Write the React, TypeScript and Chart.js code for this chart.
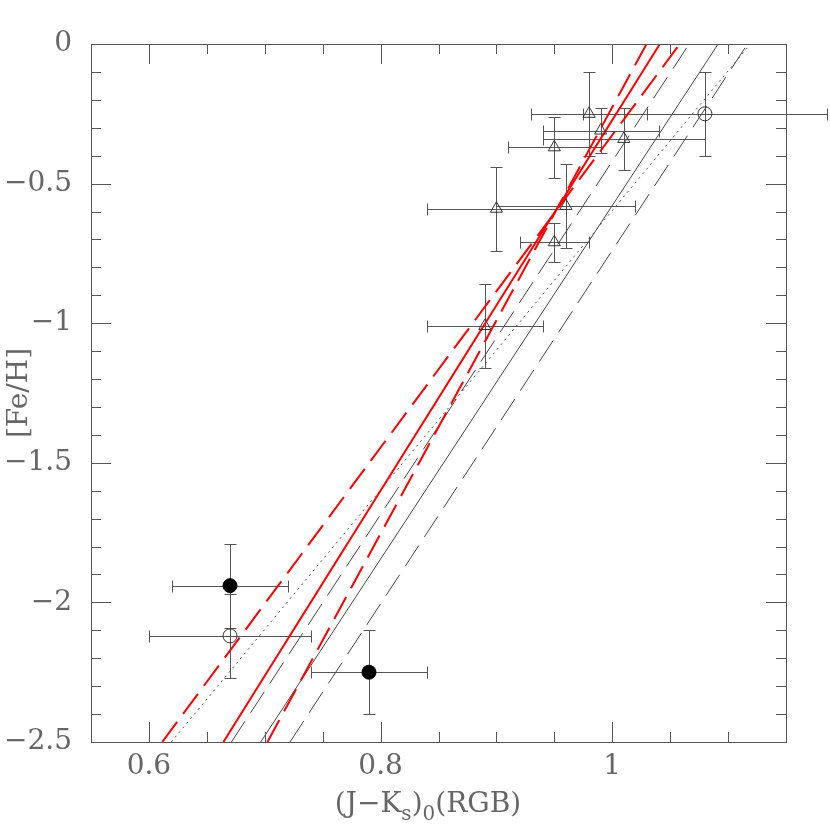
import React, { useEffect, useRef } from 'react';
import { Chart, registerables } from 'chart.js';

Chart.register(...registerables);

// ---- axis ranges & tick labels ----
const xRange = [0.55, 1.15];
const yRange = [-2.5, 0];
const xMajorTicks = [0.6, 0.8, 1.0];
const xMajorLabels = ['0.6', '0.8', '1'];
const yMajorTicks = [0, -0.5, -1, -1.5, -2, -2.5];
const yMajorLabels = ['0', '\u22120.5', '\u22121', '\u22121.5', '\u22122', '\u22122.5'];

// ---- open triangles ----
const triX = [0.89, 0.9, 0.96, 0.95, 0.95, 0.98, 0.99, 1.01];
const triY = [-1.01, -0.59, -0.58, -0.71, -0.37, -0.25, -0.31, -0.34];
const triXErr = [0.05, 0.06, 0.06, 0.03, 0.04, 0.05, 0.05, 0.07];
const triYErr = [0.15, 0.15, 0.15, 0.07, 0.11, 0.15, 0.08, 0.11];

// ---- open circles ----
const openX = [0.67, 1.08];
const openY = [-2.12, -0.25];
const openXErr = [0.07, 0.105];
const openYErr = [0.15, 0.15];

// ---- filled circles ----
const fillX = [0.67, 0.79];
const fillY = [-1.94, -2.25];
const fillXErr = [0.05, 0.05];
const fillYErr = [0.15, 0.15];

// ---- relations: x at [Fe/H] = -2.5 and at [Fe/H] = 0 ----
const lineY = [-2.5, 0];
const redFitX = [0.6643, 1.0411];
const redUpperX = [0.6115, 1.0583];
const redLowerX = [0.7023, 1.0296];
const blackFitX = [0.6965, 1.0914];
const blackLowX = [0.6712, 1.0664];
const blackHighX = [0.7218, 1.1168];
const dottedX = [0.6193, 1.1193];

const FONT = '"DejaVu Serif", "Liberation Serif", serif';
const TEXT_COLOR = '#666';

const pts = (xs: number[], ys: number[]) => xs.map((x, i) => ({ x, y: ys[i] }));

const errorBarPlugin = {
  id: 'errorBars',
  beforeDatasetsDraw(chart: any) {
    const { ctx } = chart;
    const xs = chart.scales.x;
    const ys = chart.scales.y;
    const cap = 6;
    const r = (v: number) => Math.round(v) + 0.5;
    ctx.save();
    ctx.strokeStyle = '#555';
    ctx.lineWidth = 1;
    chart.data.datasets.forEach((ds: any) => {
      if (!ds.errX) return;
      ds.data.forEach((p: any, i: number) => {
        const px = r(xs.getPixelForValue(p.x));
        const py = r(ys.getPixelForValue(p.y));
        const x0 = r(xs.getPixelForValue(p.x - ds.errX[i]));
        const x1 = r(xs.getPixelForValue(p.x + ds.errX[i]));
        const y0 = r(ys.getPixelForValue(p.y + ds.errY[i]));
        const y1 = r(ys.getPixelForValue(p.y - ds.errY[i]));
        ctx.beginPath();
        ctx.moveTo(x0, py); ctx.lineTo(x1, py);
        ctx.moveTo(x0, py - cap); ctx.lineTo(x0, py + cap);
        ctx.moveTo(x1, py - cap); ctx.lineTo(x1, py + cap);
        ctx.moveTo(px, y0); ctx.lineTo(px, y1);
        ctx.moveTo(px - cap, y0); ctx.lineTo(px + cap, y0);
        ctx.moveTo(px - cap, y1); ctx.lineTo(px + cap, y1);
        ctx.stroke();
      });
    });
    ctx.restore();
  },
};

const framePlugin = {
  id: 'frameTicks',
  afterDraw(chart: any) {
    const { ctx, chartArea } = chart;
    const { left, right, top, bottom } = chartArea;
    const xs = chart.scales.x;
    const ys = chart.scales.y;
    const r = (v: number) => Math.round(v) + 0.5;
    ctx.save();
    ctx.strokeStyle = '#555';
    ctx.lineWidth = 1;
    ctx.strokeRect(r(left), r(top), Math.round(right - left), Math.round(bottom - top));
    ctx.beginPath();
    xs.ticks.forEach((t: any) => {
      const v = t.value;
      const major = xMajorTicks.some((m) => Math.abs(m - v) < 1e-6);
      const len = major ? 20 : 10;
      const px = r(xs.getPixelForValue(v));
      ctx.moveTo(px, bottom); ctx.lineTo(px, bottom - len);
      ctx.moveTo(px, top); ctx.lineTo(px, top + len);
    });
    ys.ticks.forEach((t: any) => {
      const v = t.value;
      const major = yMajorTicks.some((m) => Math.abs(m - v) < 1e-6);
      const len = major ? 20 : 10;
      const py = r(ys.getPixelForValue(v));
      ctx.moveTo(left, py); ctx.lineTo(left + len, py);
      ctx.moveTo(right, py); ctx.lineTo(right - len, py);
    });
    ctx.stroke();

    // axis titles
    ctx.fillStyle = TEXT_COLOR;
    const big = `28px ${FONT}`;
    const small = `20px ${FONT}`;
    const parts = [
      { t: '(J\u2212K', sub: false },
      { t: 's', sub: true },
      { t: ')', sub: false },
      { t: '0', sub: true },
      { t: '(RGB)', sub: false },
    ];
    let total = 0;
    parts.forEach((p) => {
      ctx.font = p.sub ? small : big;
      total += ctx.measureText(p.t).width;
    });
    let cx = 428 - total / 2;
    const base = 812;
    ctx.textAlign = 'left';
    ctx.textBaseline = 'alphabetic';
    parts.forEach((p) => {
      ctx.font = p.sub ? small : big;
      ctx.fillText(p.t, cx, p.sub ? base + 8 : base);
      cx += ctx.measureText(p.t).width;
    });

    ctx.translate(20, 393);
    ctx.rotate(-Math.PI / 2);
    ctx.font = big;
    ctx.textAlign = 'center';
    ctx.textBaseline = 'middle';
    ctx.fillText('[Fe/H]', 0, 0);
    ctx.restore();
  },
};

export default function App() {
  const ref = useRef<HTMLCanvasElement | null>(null);

  useEffect(() => {
    if (!ref.current) return;
    const lineDs = (xs: number[], color: string, width: number, dash: number[]) => ({
      data: pts(xs, lineY),
      showLine: true,
      pointRadius: 0,
      borderColor: color,
      borderWidth: width,
      borderDash: dash,
      fill: false,
    });
    const chart = new Chart(ref.current, {
      type: 'scatter',
      data: {
        datasets: [
          {
            data: pts(fillX, fillY),
            pointStyle: 'circle',
            pointRadius: 7,
            backgroundColor: '#000',
            borderColor: '#000',
            borderWidth: 1,
            errX: fillXErr,
            errY: fillYErr,
          } as any,
          {
            data: pts(openX, openY),
            pointStyle: 'circle',
            pointRadius: 7,
            backgroundColor: 'rgba(0,0,0,0)',
            borderColor: '#333',
            borderWidth: 1,
            errX: openXErr,
            errY: openYErr,
          } as any,
          {
            data: pts(triX, triY),
            pointStyle: 'triangle',
            pointRadius: 7,
            backgroundColor: 'rgba(0,0,0,0)',
            borderColor: '#333',
            borderWidth: 1,
            errX: triXErr,
            errY: triYErr,
          } as any,
          lineDs(redFitX, '#ff0000', 2, []),
          lineDs(redUpperX, '#ff0000', 2, [25, 10]),
          lineDs(redLowerX, '#ff0000', 2, [25, 10]),
          lineDs(blackFitX, '#444', 1, []),
          lineDs(blackLowX, '#444', 1, [25, 10]),
          lineDs(blackHighX, '#444', 1, [25, 10]),
          lineDs(dottedX, '#555', 1, [2, 4]),
        ],
      },
      options: {
        animation: false,
        responsive: false,
        devicePixelRatio: 1,
        events: [],
        layout: { padding: { left: 0, top: 44, right: 44, bottom: 0 } },
        plugins: { legend: { display: false }, tooltip: { enabled: false } },
        scales: {
          x: {
            type: 'linear',
            min: xRange[0],
            max: xRange[1],
            grid: { display: false, drawTicks: false },
            border: { display: false },
            afterFit: (s: any) => { s.height = 88; },
            ticks: {
              stepSize: 0.05,
              autoSkip: false,
              maxRotation: 0,
              padding: 8,
              color: TEXT_COLOR,
              font: { family: FONT, size: 28 },
              callback: (v: any) => {
                const i = xMajorTicks.findIndex((m) => Math.abs(m - Number(v)) < 1e-6);
                return i >= 0 ? xMajorLabels[i] : '';
              },
            },
          },
          y: {
            type: 'linear',
            min: yRange[0],
            max: yRange[1],
            grid: { display: false, drawTicks: false },
            border: { display: false },
            afterFit: (s: any) => { s.width = 91; },
            ticks: {
              stepSize: 0.1,
              autoSkip: false,
              padding: 19,
              color: TEXT_COLOR,
              font: { family: FONT, size: 28 },
              callback: (v: any) => {
                const i = yMajorTicks.findIndex((m) => Math.abs(m - Number(v)) < 1e-6);
                return i >= 0 ? yMajorLabels[i] : '';
              },
            },
          },
        },
      } as any,
      plugins: [errorBarPlugin, framePlugin],
    });
    return () => chart.destroy();
  }, []);

  return (
    <div style={{ position: 'absolute', left: 0, top: 0, width: 830, height: 830, background: '#fff' }}>
      <canvas ref={ref} width={830} height={830} style={{ display: 'block' }} />
    </div>
  );
}
